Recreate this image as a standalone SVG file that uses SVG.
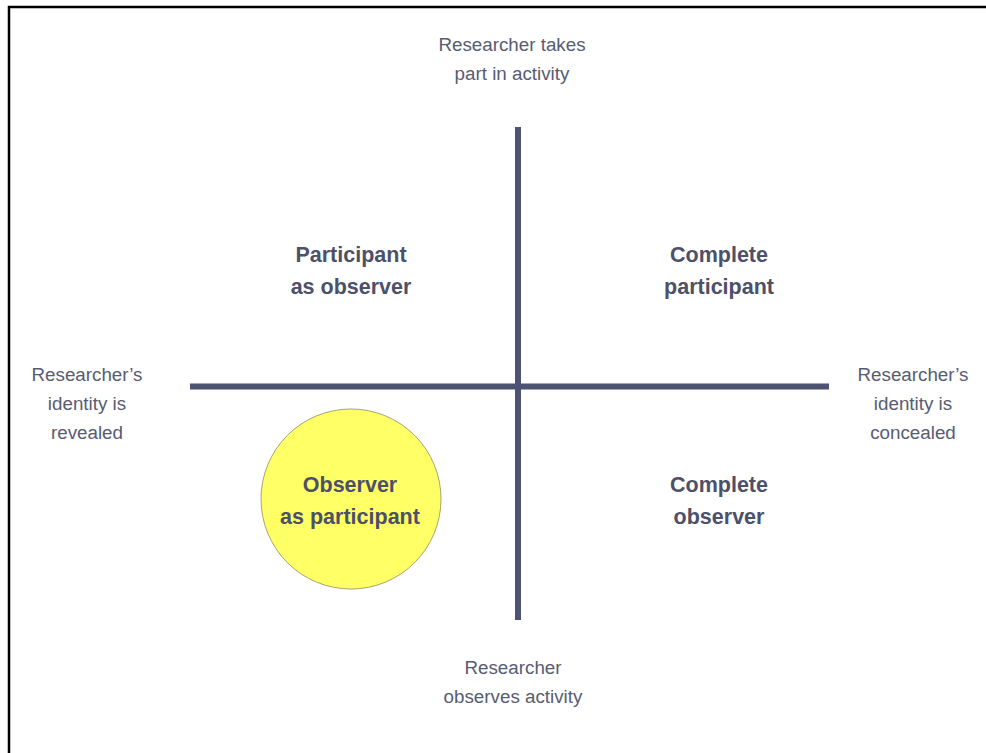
<svg xmlns="http://www.w3.org/2000/svg" width="986" height="753" viewBox="0 0 986 753">
<style>
.lbl{font-family:"Liberation Sans",Arial,sans-serif;font-size:18.8px;fill:#585c72;text-anchor:middle}
.q{font-family:"Liberation Sans",Arial,sans-serif;font-size:21.5px;font-weight:bold;fill:#4c5068;text-anchor:middle}
.ax{stroke:#4f5373;stroke-width:6;fill:none}
</style>
<rect width="986" height="753" fill="#ffffff"/>
<path d="M9 753 V7 H986" stroke="#000" stroke-width="2.5" fill="none"/>
<g id="connectors">
<line class="ax" x1="518" y1="127" x2="518" y2="620"/>
<line class="ax" x1="190" y1="386.5" x2="829" y2="386.5"/>
</g>
<g id="top-label"><text class="lbl" x="512" y="51">Researcher takes</text><text class="lbl" x="512" y="80">part in activity</text></g>
<g id="bottom-label"><text class="lbl" x="513" y="674">Researcher</text><text class="lbl" x="513" y="703">observes activity</text></g>
<g id="left-label"><text class="lbl" x="87" y="381">Researcher’s</text><text class="lbl" x="87" y="410">identity is</text><text class="lbl" x="87" y="439">revealed</text></g>
<g id="right-label"><text class="lbl" x="913" y="381">Researcher’s</text><text class="lbl" x="913" y="410">identity is</text><text class="lbl" x="913" y="439">concealed</text></g>
<g id="participant-as-observer"><text class="q" x="351" y="262">Participant</text><text class="q" x="351" y="294">as observer</text></g>
<g id="complete-participant"><text class="q" x="719" y="262">Complete</text><text class="q" x="719" y="294">participant</text></g>
<g id="observer-as-participant"><ellipse cx="351" cy="499" rx="90" ry="90" fill="#ffff66" stroke="#a8a470" stroke-width="1"/><text class="q" x="350" y="492">Observer</text><text class="q" x="350" y="524">as participant</text></g>
<g id="complete-observer"><text class="q" x="719" y="492">Complete</text><text class="q" x="719" y="524">observer</text></g>
</svg>
